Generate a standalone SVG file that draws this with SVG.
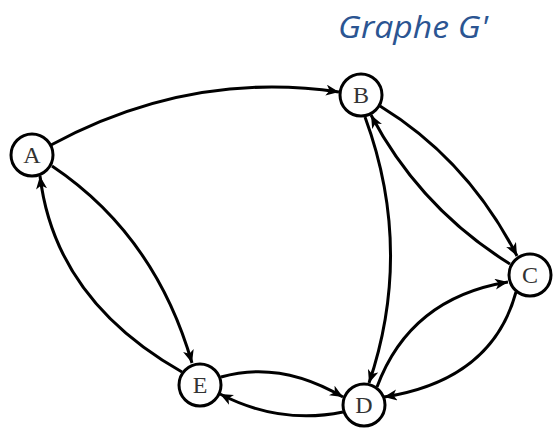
<svg xmlns="http://www.w3.org/2000/svg" width="557" height="428" viewBox="0 0 557 428">
<style>
.node circle{fill:#fff;stroke:#000;stroke-width:3}
.node text{font-family:"Liberation Serif","DejaVu Serif",serif;font-size:24px;fill:#333;text-anchor:middle}
.edge{fill:none;stroke:#000;stroke-width:3;marker-end:url(#arr)}
.title{font-family:"Open Sans","Noto Sans",sans-serif;font-style:italic;font-size:31px;fill:#2B5592}
</style>
<defs>
<marker id="arr" markerUnits="userSpaceOnUse" markerWidth="15" markerHeight="12" refX="13" refY="5.5" orient="auto">
<path d="M0,0 L13,5.5 L0,11 L3.5,5.5 z" fill="#000"/>
</marker>
</defs>
<rect width="557" height="428" fill="#fff"/>
<text class="title" x="338" y="38" textLength="150" lengthAdjust="spacingAndGlyphs">Graphe G'</text>
<g id="edges">
<path class="edge" d="M51,145 Q190,70 339,92"/>
<path class="edge" d="M52,166 Q155,235 192,363"/>
<path class="edge" d="M182,372 Q55,300 40,176"/>
<path class="edge" d="M380,106 Q468,160 517,256"/>
<path class="edge" d="M510,264 Q420,208 371,115"/>
<path class="edge" d="M365,117 Q414,250 369,383"/>
<path class="edge" d="M516,292 Q492,380 384,397"/>
<path class="edge" d="M377,387 Q410,298 508,282"/>
<path class="edge" d="M221,377 Q280,360 343,397"/>
<path class="edge" d="M343,412 Q280,425 220,394"/>
</g>
<g id="A" class="node"><circle cx="32" cy="155" r="21"/><text x="32" y="163">A</text></g>
<g id="B" class="node"><circle cx="361" cy="95" r="21"/><text x="361" y="103">B</text></g>
<g id="C" class="node"><circle cx="530" cy="275" r="21"/><text x="530" y="283">C</text></g>
<g id="D" class="node"><circle cx="364" cy="405" r="21"/><text x="364" y="413">D</text></g>
<g id="E" class="node"><circle cx="200" cy="385" r="21"/><text x="200" y="393">E</text></g>
</svg>
